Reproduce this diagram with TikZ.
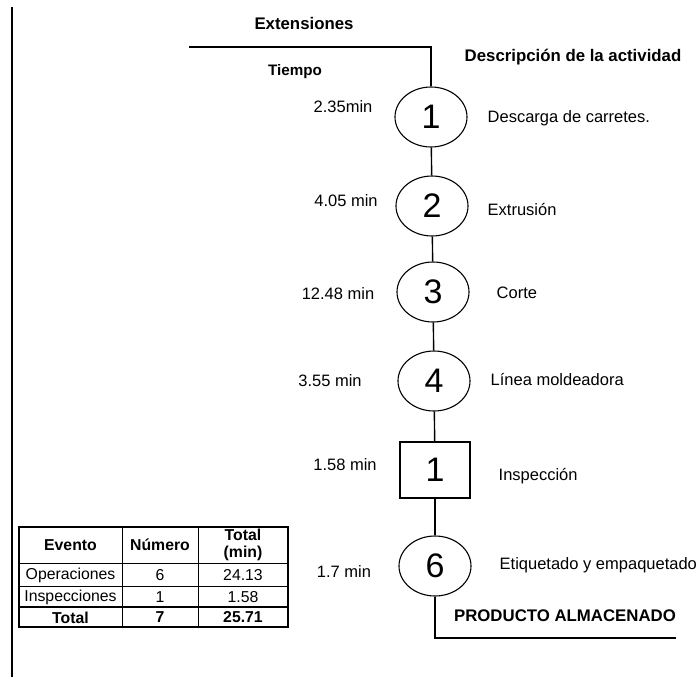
\documentclass[tikz,border=0pt]{standalone}
\usepackage{fontspec}
\setmainfont{Liberation Sans}
\usetikzlibrary{shapes.geometric}
\begin{document}
\begin{tikzpicture}[x=1pt,y=-1pt, line width=1.4pt,
 op/.style={ellipse, draw, line width=1.1pt, minimum width=72pt, minimum height=60pt, inner sep=0pt, font=\fontsize{34}{34}\selectfont},
 insp/.style={rectangle, draw, line width=1.1pt, minimum width=70pt, minimum height=56pt, inner sep=0pt, font=\fontsize{34}{34}\selectfont},
 lbl/.style={font=\fontsize{16.5}{18}\selectfont, inner sep=0pt},
 desc/.style={lbl, anchor=west},
 hdr/.style={font=\bfseries\fontsize{16.8}{18}\selectfont, inner sep=0pt},
 cell/.style={font=\fontsize{15.8}{16}\selectfont, inner sep=0pt, align=center},
 bcell/.style={cell, font=\bfseries\fontsize{15.8}{16}\selectfont}]
\useasboundingbox (0,0) rectangle (699,677);
% left margin line
\coordinate (lt) at (12,7);
\coordinate (lb) at (12,677);
\draw (lt) -- (lb);
% headers
\node[hdr] (ext) at (304,23) {Extensiones};
\node[hdr, font=\bfseries\fontsize{15.2}{17}\selectfont] (tiem) at (295,72) {Tiempo};
\node[hdr] (desch) at (573,57) {Descripción de la actividad};
% process nodes
\node[op] (e1) at (431,117) {1};
\node[op] (e2) at (432,206) {2};
\node[op] (e3) at (433,292) {3};
\node[op] (e4) at (434,381) {4};
\node[insp] (s1) at (435,470) {1};
\node[op] (e6) at (435,566) {6};
% connectors
\coordinate (tl) at (189,47);
\coordinate (tr) at (431,47);
\coordinate (bl) at (435,638);
\coordinate (br) at (676,638);
\draw (tl) -- (tr) -- (e1.north);
\draw (e1) -- (e2);
\draw (e2) -- (e3);
\draw (e3) -- (e4);
\draw (e4) -- (s1);
\draw (s1) -- (e6);
\draw (e6.south) -- (bl) -- (br);
% times
\node[lbl] (t1) at (343,107) {2.35min};
\node[lbl] (t2) at (346,201) {4.05 min};
\node[lbl] (t3) at (338,294) {12.48 min};
\node[lbl] (t4) at (330,381) {3.55 min};
\node[lbl] (t5) at (345,465) {1.58 min};
\node[lbl] (t6) at (344,572) {1.7 min};
% descriptions
\node[desc] (d1) at (487,118) {Descarga de carretes.};
\node[desc] (d2) at (487,210) {Extrusión};
\node[desc] (d3) at (496,293) {Corte};
\node[desc] (d4) at (490,380) {Línea moldeadora};
\node[desc] (d5) at (498,476) {Inspección};
\node[desc] (d6) at (499,565) {Etiquetado y empaquetado};
\node[hdr] (prod) at (565,616) {PRODUCTO ALMACENADO};
% table
\draw[line width=1.1pt] (19,527) rectangle (288,627);
\draw[line width=0.9pt] (19,563) -- (288,563);
\draw[line width=0.9pt] (19,586) -- (288,586);
\draw[line width=1.4pt] (19,607) -- (288,607);
\draw[line width=0.9pt] (122,527) -- (122,627);
\draw[line width=0.9pt] (198,527) -- (198,627);
\node[bcell] (c11) at (70.5,545) {Evento};
\node[bcell] (c12) at (160,545) {Número};
\node[bcell, font=\bfseries\fontsize{15.8}{16.5}\selectfont] (c13) at (243,545) {Total\\(min)};
\node[cell] (c21) at (70.5,575) {Operaciones};
\node[cell] (c22) at (160,575) {6};
\node[cell] (c23) at (243,575) {24.13};
\node[cell] (c31) at (70.5,597) {Inspecciones};
\node[cell] (c32) at (160,597) {1};
\node[cell] (c33) at (243,597) {1.58};
\node[bcell] (c41) at (70.5,617.5) {Total};
\node[bcell] (c42) at (160,617.5) {7};
\node[bcell] (c43) at (243,617.5) {25.71};
\end{tikzpicture}
\end{document}
